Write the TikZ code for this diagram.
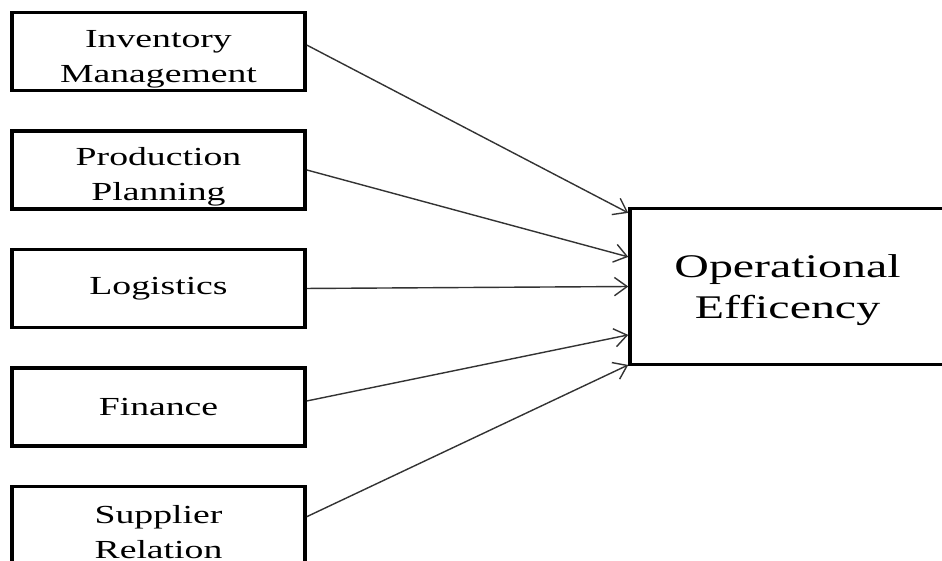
\documentclass[tikz,border=0pt]{standalone}
\usepackage{fontspec}
\setmainfont{Liberation Serif}
\newfontfamily\widefont[FakeStretch=1.45]{Liberation Serif}
\usetikzlibrary{arrows.meta, positioning}
\newcommand{\tallstrut}{\rule{0pt}{0.8cm}}

\begin{document}
\begin{tikzpicture}[
  x=0.025cm, y=-0.025cm,
  node distance=0.92cm,
  box/.style={rectangle, draw, line width=2.6pt, align=center, inner sep=0pt,
              font=\widefont\fontsize{18.5}{24.8}\selectfont,
              minimum width=7.325cm, minimum height=1.95cm},
  outbox/.style={box, line width=2.4pt, font=\widefont\fontsize{23.5}{29.4}\selectfont,
                 minimum width=7.875cm, minimum height=3.9cm},
  arr/.style={-{Straight Barb[length=9pt, width=13pt]}, line width=1pt, black!80}
]
\useasboundingbox (0,0) rectangle (942,560);
\node[box] (inv) at (158.5,51.5) {\tallstrut Inventory\\Management};
\node[box, below=of inv]  (prod) {\tallstrut Production\\Planning};
\node[box, below=of prod] (logi) {Logistics};
\node[box, below=of logi] (fin)  {Finance};
\node[box, below=of fin]  (supp) {\tallstrut Supplier\\Relation};
\node[outbox] (eff) at (787.5,286.5) {\rule{0pt}{0.75cm}Operational\\Efficency};
\draw[arr] ([yshift=0.16cm]inv.east)  -- ([yshift=1.84cm]eff.west);
\draw[arr] (prod.east)                -- ([yshift=0.74cm]eff.west);
\draw[arr] (logi.east)                -- (eff.west);
\draw[arr] ([yshift=0.15cm]fin.east)  -- ([yshift=-1.21cm]eff.west);
\draw[arr] ([yshift=0.22cm]supp.east) -- ([yshift=-1.96cm]eff.west);
\end{tikzpicture}
\end{document}
